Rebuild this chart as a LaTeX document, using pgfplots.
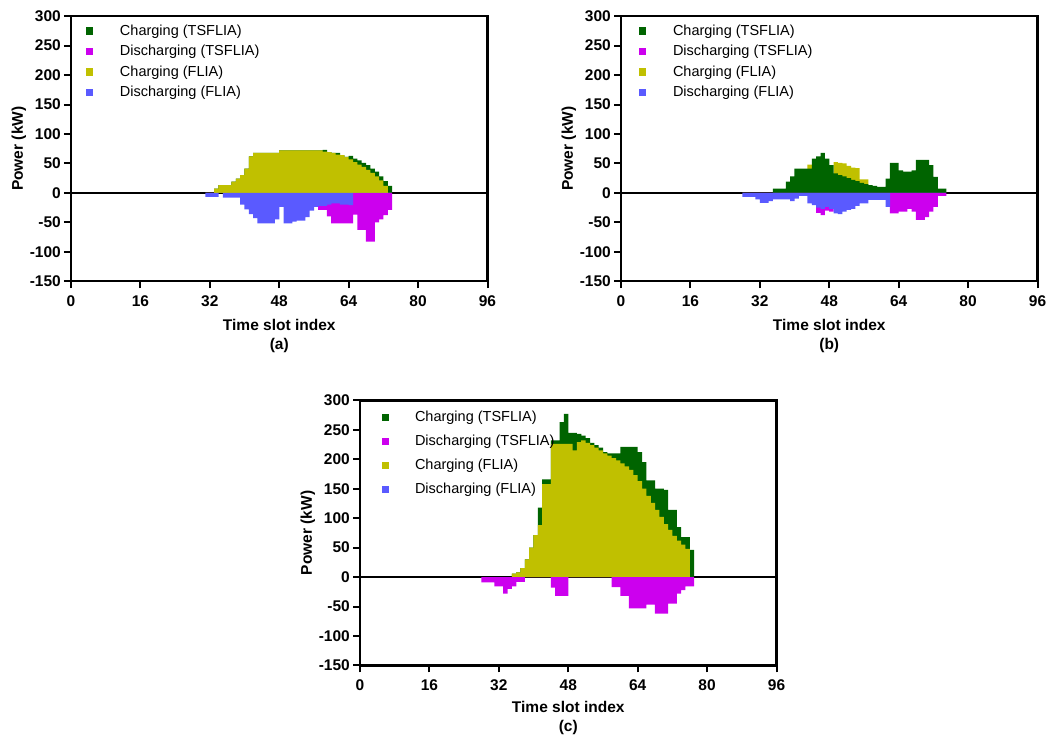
\documentclass[border=0pt]{standalone}
\usepackage{pgfplots}
\pgfplotsset{compat=1.18}
\usepackage{pgfplotstable}
\usepackage{fontspec}
\setmainfont{Liberation Sans}
\definecolor{cgT}{RGB}{0,100,0}
\definecolor{cmT}{RGB}{204,0,238}
\definecolor{cyF}{RGB}{192,192,0}
\definecolor{cbF}{RGB}{90,90,255}

% k  gT (charging TSFLIA)  mT (discharging TSFLIA)  yF (charging FLIA)  bF (discharging FLIA)
\pgfplotstableread{
k gT mT yF bF
31 0 0 0 -7
32 0 0 0 -7
33 7 0 7 -7
34 13 0 13 0
35 13 0 13 -8
36 13 0 13 -8
37 19 0 19 -8
38 24 0 24 -8
39 30 0 30 -20
40 41 0 41 -28
41 62 0 62 -36
42 68 0 68 -43
43 68 0 68 -52
44 68 0 68 -52
45 68 0 68 -52
46 68 0 68 -52
47 68 0 68 -45
48 72 0 72 -24
49 72 0 72 -52
50 72 0 72 -52
51 72 0 72 -49
52 72 0 72 -47
53 72 0 72 -47
54 72 0 72 -41
55 72 0 72 -30
56 72 0 72 -24
57 72 -29 72 -22
58 73 -29 70 -22
59 69 -40 69 -20
60 68 -52 68 -18
61 68 -52 65 -18
62 64 -52 64 -20
63 61 -52 61 -20
64 63 -52 57 -21
65 58 -37 52 0
66 55 -63 48 0
67 51 -63 44 0
68 47 -83 39 0
69 41 -83 34 0
70 36 -50 28 0
71 28 -45 21 0
72 20 -38 12 0
73 12 -29 0 0
}\tabA

\pgfplotstableread{
k gT mT yF bF
28 0 0 0 -7
29 0 0 0 -7
30 0 0 0 -7
31 0 0 0 -11
32 0 0 0 -17
33 0 0 0 -17
34 0 0 0 -14
35 7 0 0 -11
36 7 0 0 -11
37 7 0 0 -11
38 19 0 0 -11
39 28 0 0 -14
40 41 0 0 -10
41 41 0 0 -5
42 41 0 0 -5
43 41 0 48 -18
44 58 0 0 -21
45 62 -34 0 -25
46 68 -38 0 -27
47 58 -30 0 -24
48 47 -32 0 -27
49 33 0 52 -35
50 30 0 51 -36
51 28 0 50 -32
52 25 0 46 -29
53 22 0 43 -27
54 20 0 42 -22
55 17 0 23 -18
56 15 0 23 -18
57 13 0 0 -12
58 12 0 0 -12
59 10 0 0 -12
60 10 0 0 -12
61 24 0 0 -24
62 51 -35 0 0
63 51 -35 0 0
64 38 -32 0 0
65 36 -32 0 0
66 36 -27 0 0
67 38 -32 0 0
68 56 -46 0 0
69 56 -46 0 0
70 56 -41 0 0
71 47 -32 0 0
72 27 -24 0 0
73 7 -5 0 0
74 7 -5 0 0
}\tabB

\pgfplotstableread{
k gT mT yF bF
28 0 -9 0 0
29 0 -9 0 0
30 0 -9 0 0
31 0 -16 0 0
32 0 -16 0 0
33 0 -28 0 0
34 0 -20 0 0
35 6 -16 6 0
36 8 -8 8 0
37 15 -8 15 0
38 30 0 30 0
39 50 0 50 0
40 71 0 71 0
41 118 0 88 0
42 166 0 158 0
43 166 0 158 0
44 232 -18 226 0
45 232 -32 226 0
46 263 -32 226 0
47 277 -32 226 0
48 245 0 226 0
49 245 0 215 0
50 243 0 229 0
51 240 0 232 0
52 236 0 228 0
53 228 0 224 0
54 224 0 220 0
55 220 0 215 0
56 212 0 210 0
57 210 0 206 0
58 210 -17 202 0
59 210 -17 198 0
60 221 -32 193 0
61 221 -32 188 0
62 221 -53 182 0
63 221 -53 173 0
64 212 -53 163 0
65 195 -53 150 0
66 164 -47 138 0
67 164 -47 126 0
68 150 -62 114 0
69 150 -62 102 0
70 148 -62 90 0
71 114 -45 80 0
72 114 -45 70 0
73 85 -28 62 0
74 68 -22 55 0
75 68 -16 48 0
76 46 -16 0 0
}\tabC

\pgfplotsset{
  panel/.style={
    scale only axis, width=416.5pt, height=265pt,
    xmin=0, xmax=96, ymin=-150, ymax=300,
    xtick={0,16,32,48,64,80,96},
    ytick={-150,-100,-50,0,50,100,150,200,250,300},
    xticklabels={0,16,32,48,64,80,96},
    yticklabels={-150,-100,-50,0,50,100,150,200,250,300},
    axis line style={line width=2.5pt, black},
    tick style={line width=2pt, black},
    major tick length=7pt,
    tick align=outside,
    tick pos=left,
    ticklabel style={font=\fontsize{15.5}{18}\bfseries\selectfont},
    yticklabel style={inner sep=3pt},
    xticklabel style={inner sep=3pt, yshift=-4pt},
    xlabel style={anchor=center, align=center, font=\fontsize{15.5}{19}\bfseries\selectfont},
    ylabel style={anchor=center, font=\fontsize{15.5}{19}\bfseries\selectfont},
    ylabel={Power (kW)},
    legend cell align=left,
    legend style={draw=none, fill=none, inner sep=0pt, outer sep=0pt,
      at={(0,1)}, anchor=north west, row sep=0pt, column sep=0pt,
      font=\fontsize{14.5}{17}\selectfont,
      nodes={inner xsep=0pt, text height=11pt, text depth=3pt, anchor=west}},
  },
  sqleg/.style={legend image code/.code={%
      \fill[##1, draw=none] (0pt,-3.75pt) rectangle (7pt,3.75pt);
      \path[draw=none, fill=none] (0pt,0pt) (#1,0pt);}},
  bars/.style={ybar, bar width=1.03, bar shift=0pt, draw=none, fill=#1, forget plot},
  zline/.style={black, line width=2pt, forget plot},
}

\newcommand{\legentries}{%
  \addlegendimage{fill=cgT}\addlegendentry{Charging (TSFLIA)}
  \addlegendimage{fill=cmT}\addlegendentry{Discharging (TSFLIA)}
  \addlegendimage{fill=cyF}\addlegendentry{Charging (FLIA)}
  \addlegendimage{fill=cbF}\addlegendentry{Discharging (FLIA)}
}

\begin{document}
\begin{tikzpicture}
\useasboundingbox (0pt,0pt) rectangle (1050pt,735pt);

% (a)
\begin{axis}[panel, at={(71pt,453.8pt)}, anchor=south west,
  sqleg=34pt,
  legend style={xshift=15pt, yshift=-4.75pt, nodes={inner ysep=3.25pt}},
  xlabel={Time slot index\\(a)},
  xlabel style={at={(axis description cs:0.5,-0.208)}},
  ylabel style={at={(axis description cs:-0.125,0.5)}}]
\legentries
\addplot[zline] coordinates {(0,0) (96,0)};
\addplot[bars=cgT] table[x expr=\thisrow{k}+0.5, y=gT] {\tabA};
\addplot[bars=cmT] table[x expr=\thisrow{k}+0.5, y=mT] {\tabA};
\addplot[bars=cyF] table[x expr=\thisrow{k}+0.5, y=yF] {\tabA};
\addplot[bars=cbF] table[x expr=\thisrow{k}+0.5, y=bF] {\tabA};
\end{axis}

% (b)
\begin{axis}[panel, at={(621pt,453.8pt)}, anchor=south west,
  sqleg=34pt,
  legend style={xshift=18pt, yshift=-4.75pt, nodes={inner ysep=3.25pt}},
  xlabel={Time slot index\\(b)},
  xlabel style={at={(axis description cs:0.5,-0.208)}},
  ylabel style={at={(axis description cs:-0.125,0.5)}}]
\legentries
\addplot[zline] coordinates {(0,0) (96,0)};
\addplot[bars=cyF] table[x expr=\thisrow{k}+0.5, y=yF] {\tabB};
\addplot[bars=cgT] table[x expr=\thisrow{k}+0.5, y=gT] {\tabB};
\addplot[bars=cmT] table[x expr=\thisrow{k}+0.5, y=mT] {\tabB};
\addplot[bars=cbF] table[x expr=\thisrow{k}+0.5, y=bF] {\tabB};
\end{axis}

% (c)
\begin{axis}[panel, at={(360pt,69.6pt)}, anchor=south west,
  sqleg=33pt,
  legend style={xshift=22pt, yshift=-5pt, nodes={inner ysep=5pt}},
  xlabel={Time slot index\\(c)},
  xlabel style={at={(axis description cs:0.5,-0.2)}},
  ylabel style={at={(axis description cs:-0.125,0.5)}}]
\legentries
\addplot[zline] coordinates {(0,0) (96,0)};
\addplot[bars=cgT] table[x expr=\thisrow{k}+0.5, y=gT] {\tabC};
\addplot[bars=cyF] table[x expr=\thisrow{k}+0.5, y=yF] {\tabC};
\addplot[bars=cmT] table[x expr=\thisrow{k}+0.5, y=mT] {\tabC};
\end{axis}
\end{tikzpicture}
\end{document}
